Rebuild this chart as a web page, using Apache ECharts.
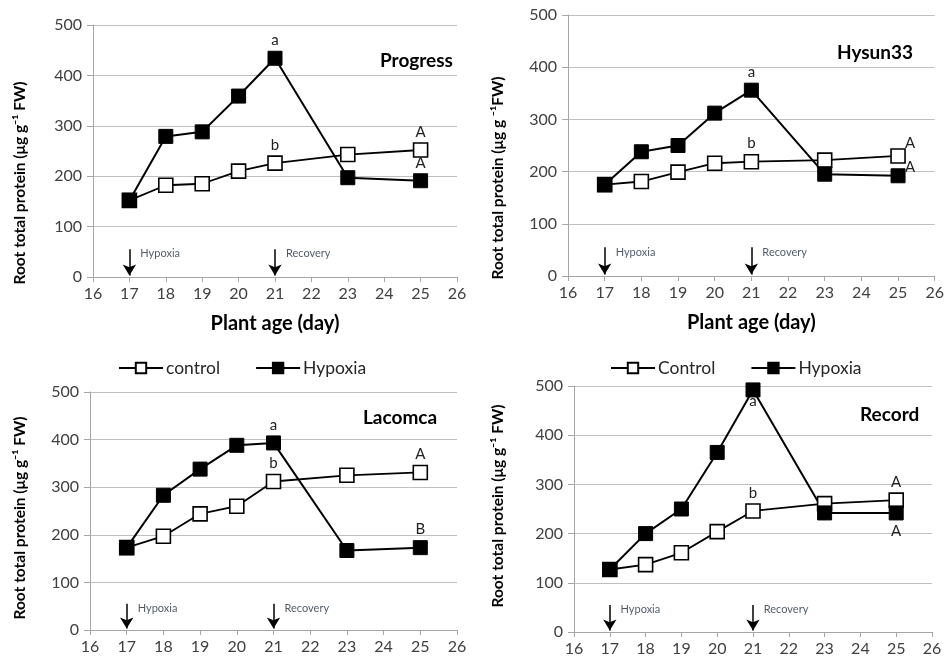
<!DOCTYPE html>
<html>
<head>
<meta charset="utf-8">
<script src="https://cdn.jsdelivr.net/npm/echarts@6/dist/echarts.min.js"></script>
<style>html,body{margin:0;padding:0;background:#fff;}#c{width:947px;height:668px;}</style>
</head>
<body>
<div id="c"></div>
<script>
// ---- data ----
const days = [17, 18, 19, 20, 21, 23, 25];
const xTicks = [16, 17, 18, 19, 20, 21, 22, 23, 24, 25, 26];
const yTicks = [0, 100, 200, 300, 400, 500];

const progressControl = [152, 182, 185, 210, 226, 243, 252];
const progressHypoxia = [152, 279, 288, 359, 434, 197, 191];
const hysunControl = [175, 181, 199, 216, 219, 222, 230];
const hysunHypoxia = [175, 238, 250, 312, 356, 195, 192];
const lacomcaControl = [173, 197, 244, 260, 312, 325, 331];
const lacomcaHypoxia = [173, 283, 338, 388, 393, 167, 173];
const recordControl = [127, 137, 161, 204, 246, 261, 268];
const recordHypoxia = [127, 200, 250, 365, 492, 242, 242];

const progressControlLetters = ['', '', '', '', 'b', '', 'A'];
const progressHypoxiaLetters = ['', '', '', '', 'a', '', 'A'];
const hysunControlLetters = ['', '', '', '', 'b', '', 'A'];
const hysunHypoxiaLetters = ['', '', '', '', 'a', '', 'A'];
const lacomcaControlLetters = ['', '', '', '', 'b', '', 'A'];
const lacomcaHypoxiaLetters = ['', '', '', '', 'a', '', 'B'];
const recordControlLetters = ['', '', '', '', 'b', '', 'A'];
const recordHypoxiaLetters = ['', '', '', '', 'a', '', 'A'];

const panelTitles = ['Progress', 'Hysun33', 'Lacomca', 'Record'];
const treatmentDays = [17, 21];
const treatmentLabels = ['Hypoxia', 'Recovery'];
const arrowTop = 55, arrowBottom = 3, treatmentLabelY = 46;

// ---- layout / style ----
const FONT = 'Lato, "Open Sans", sans-serif';
const grids = [
  {left: 93, top: 25, width: 364, height: 252},
  {left: 568, top: 15, width: 367, height: 261},
  {left: 90, top: 392, width: 367, height: 238},
  {left: 574, top: 386, width: 358, height: 246}
];
const titlePos = [[375, 46], [832, 38], [358, 403], [855, 400]];
const yTitlePos = [[20, 183], [498, 178], [20, 518], [498, 506]];
const yTitles = ['Root total protein (μg g⁻¹ FW)', 'Root total protein (μg g ⁻¹FW)', 'Root total protein (μg g⁻¹ FW)', 'Root total protein (μg g⁻¹ FW)'];
const controlNames = ['Control', 'Control', 'control', 'Control'];

const panels = [
  [progressControl, progressHypoxia, progressControlLetters, progressHypoxiaLetters],
  [hysunControl, hysunHypoxia, hysunControlLetters, hysunHypoxiaLetters],
  [lacomcaControl, lacomcaHypoxia, lacomcaControlLetters, lacomcaHypoxiaLetters],
  [recordControl, recordHypoxia, recordControlLetters, recordHypoxiaLetters]
];

function letterLabel(p, isControl, letter, idx) {
  const base = {show: true, formatter: letter, fontFamily: FONT, fontSize: 15, color: '#222', distance: 3};
  if (p === 1 && idx === 6) {
    return Object.assign(base, {position: 'top', offset: isControl ? [12, 6] : [12, 9]});
  }
  if (p === 3 && !isControl) {
    return Object.assign(base, {position: 'bottom', distance: idx === 4 ? -4 : 3});
  }
  return Object.assign(base, {position: 'top'});
}

function makeData(p, values, letters, isControl) {
  return days.map((d, i) => {
    const item = {value: [d, values[i]]};
    if (letters[i]) item.label = letterLabel(p, isControl, letters[i], i);
    return item;
  });
}

const xAxes = [], yAxes = [], series = [], titles = [], graphics = [];
grids.forEach((g, p) => {
  xAxes.push({
    type: 'value', gridIndex: p, min: xTicks[0], max: xTicks[xTicks.length - 1], interval: 1,
    axisLine: {show: true, lineStyle: {color: '#a6a6a6', width: 1}},
    axisTick: {show: true, length: 5, lineStyle: {color: '#a6a6a6'}},
    axisLabel: {fontFamily: FONT, fontSize: 16, color: '#404040', margin: 9},
    splitLine: {show: false},
    name: p < 2 ? 'Plant age (day)' : '', nameLocation: 'middle', nameGap: 37,
    nameTextStyle: {fontFamily: FONT, fontSize: 20, fontWeight: 'bold', color: '#000'}
  });
  yAxes.push({
    type: 'value', gridIndex: p, min: yTicks[0], max: yTicks[yTicks.length - 1], interval: 100,
    axisLine: {show: true, lineStyle: {color: '#a6a6a6', width: 1}},
    axisTick: {show: true, length: 6, lineStyle: {color: '#a6a6a6'}},
    axisLabel: {fontFamily: FONT, fontSize: 16, color: '#404040', margin: 11},
    splitLine: {show: true, lineStyle: {color: '#bfbfbf', width: 1}}
  });
  const [cv, hv, cl, hl] = panels[p];
  series.push({
    name: controlNames[p], type: 'line', xAxisIndex: p, yAxisIndex: p,
    data: makeData(p, cv, cl, true),
    symbol: 'rect', symbolSize: 14,
    lineStyle: {color: '#000', width: 1.8},
    itemStyle: {color: '#fff', borderColor: '#000', borderWidth: 1.6},
    emphasis: {disabled: true}, animation: false
  });
  series.push({
    name: 'Hypoxia', type: 'line', xAxisIndex: p, yAxisIndex: p,
    data: makeData(p, hv, hl, false),
    symbol: 'rect', symbolSize: 14,
    lineStyle: {color: '#000', width: 2},
    itemStyle: {color: '#000', borderColor: '#000', borderWidth: 1},
    emphasis: {disabled: true}, animation: false
  });
  series.push({
    type: 'scatter', xAxisIndex: p, yAxisIndex: p, symbolSize: 0, silent: true, animation: false,
    data: treatmentDays.map((d, i) => ({
      value: [d + 0.3, treatmentLabelY],
      label: {show: true, formatter: treatmentLabels[i], position: 'right', distance: 0,
        fontFamily: FONT, fontSize: 11, color: '#1f2d3d'}
    })),
    markLine: {
      silent: true, animation: false, symbol: ['none', 'arrow'], symbolSize: [10, 11],
      lineStyle: {color: '#000', width: 1.5, type: 'solid'},
      label: {show: false},
      data: treatmentDays.map(d => [{coord: [d, arrowTop]}, {coord: [d, arrowBottom]}])
    }
  });
  titles.push({
    text: panelTitles[p], left: titlePos[p][0], top: titlePos[p][1],
    textStyle: {fontFamily: FONT, fontSize: 19, fontWeight: 'bold', color: '#000'}
  });
  graphics.push({
    type: 'text', x: yTitlePos[p][0], y: yTitlePos[p][1], rotation: Math.PI / 2,
    style: {text: yTitles[p], font: 'bold 15.5px ' + FONT, fill: '#000', textAlign: 'center', textVerticalAlign: 'middle'}
  });
});

const legendCommon = {
  itemWidth: 44, itemHeight: 13, itemGap: 35, top: 354,
  textStyle: {fontFamily: FONT, fontSize: 17.5, color: '#262626', padding: [0, 0, 0, -2]},
  inactiveColor: '#000'
};

const option = {
  backgroundColor: '#fff',
  animation: false,
  title: titles,
  grid: grids,
  xAxis: xAxes,
  yAxis: yAxes,
  legend: [
    Object.assign({}, legendCommon, {left: 113, data: ['control', 'Hypoxia']}),
    Object.assign({}, legendCommon, {left: 605, data: ['Control', 'Hypoxia']})
  ],
  graphic: graphics,
  series: series
};

const chart = echarts.init(document.getElementById('c'), null, {renderer: 'canvas'});
chart.setOption(option);
</script>
</body>
</html>
